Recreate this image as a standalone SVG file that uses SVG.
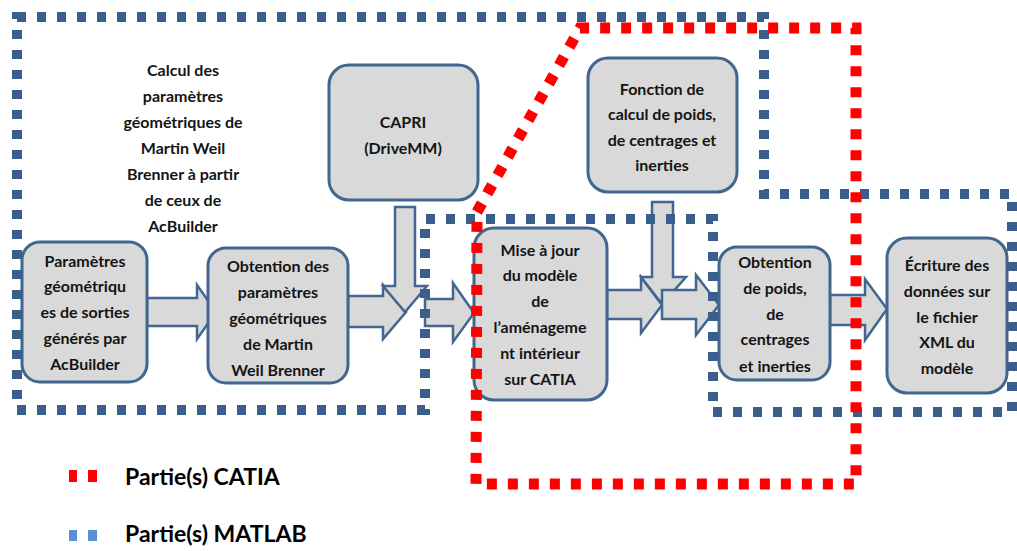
<svg xmlns="http://www.w3.org/2000/svg" width="1017" height="551" viewBox="0 0 1017 551">
<style>
.node{fill:#d9d9d9;stroke:#41668f;stroke-width:3}
.arr{fill:#d9d9d9;stroke:#41668f;stroke-width:2.5;stroke-linejoin:miter}
.t{font-family:Lato,"Liberation Sans",sans-serif;font-weight:bold;font-size:16px;fill:#141414;text-anchor:middle}
.lg{font-family:Lato,"Liberation Sans",sans-serif;font-weight:bold;font-size:23px;fill:#000}
.blue{fill:none;stroke:#3a5f8c;stroke-width:10;stroke-dasharray:9 11}
.red{fill:none;stroke:#ff0000;stroke-width:11;stroke-dasharray:10 11}
</style>
<rect width="1017" height="551" fill="#fff"/>
<g id="connectors">
<polygon class="arr" points="147,298 197,298 197,285 216,312 197,339 197,326 147,326"/>
<polygon class="arr" points="348,296 383,296 383,285 406,312 383,339 383,327 348,327"/>
<polygon class="arr" points="395,207 415,207 415,286 427,286 405,312 383,286 395,286"/>
<polygon class="arr" points="425,299 453,299 453,283 474,313 453,342 453,326 425,326"/>
<polygon class="arr" points="607,290 641,290 641,277 662,305 641,333 641,319 607,319"/>
<polygon class="arr" points="652,202 673,202 673,277 686,277 662,304 641,277 652,277"/>
<polygon class="arr" points="662,290 696,290 696,275 719,305 696,335 696,319 662,319"/>
<polygon class="arr" points="830,295 865,295 865,279 887,309 865,340 865,325 830,325"/>
</g>
<g id="title">
<text class="t" x="183"><tspan x="183" y="76">Calcul des</tspan><tspan x="183" y="102">paramètres</tspan><tspan x="183" y="128">géométriques de</tspan><tspan x="183" y="154">Martin Weil</tspan><tspan x="183" y="180">Brenner à partir</tspan><tspan x="183" y="206">de ceux de</tspan><tspan x="183" y="232">AcBuilder</tspan></text>
</g>
<g id="n1">
<rect class="node" x="22" y="242" width="125" height="140" rx="18"/>
<text class="t"><tspan x="85" y="267">Paramètres</tspan><tspan x="85" y="292">géométriqu</tspan><tspan x="85" y="318">es de sorties</tspan><tspan x="85" y="344">générés par</tspan><tspan x="85" y="370">AcBuilder</tspan></text>
</g>
<g id="n2">
<rect class="node" x="208" y="248" width="140" height="135" rx="18"/>
<text class="t"><tspan x="278" y="272">Obtention des</tspan><tspan x="278" y="298">paramètres</tspan><tspan x="278" y="324">géométriques</tspan><tspan x="278" y="350">de Martin</tspan><tspan x="278" y="376">Weil Brenner</tspan></text>
</g>
<g id="capri">
<rect class="node" x="329" y="65" width="149" height="135" rx="20"/>
<text class="t"><tspan x="403" y="128">CAPRI</tspan><tspan x="403" y="154">(DriveMM)</tspan></text>
</g>
<g id="fonction">
<rect class="node" x="588" y="58" width="149" height="134" rx="20"/>
<text class="t"><tspan x="662" y="95">Fonction de</tspan><tspan x="662" y="120">calcul de poids,</tspan><tspan x="662" y="146">de centrages et</tspan><tspan x="662" y="171">inerties</tspan></text>
</g>
<g id="mise">
<rect class="node" x="474" y="228" width="133" height="172" rx="20"/>
<text class="t"><tspan x="540" y="256">Mise à jour</tspan><tspan x="540" y="281">du modèle</tspan><tspan x="540" y="307">de</tspan><tspan x="540" y="333">l’aménageme</tspan><tspan x="540" y="359">nt intérieur</tspan><tspan x="540" y="385">sur CATIA</tspan></text>
</g>
<g id="poids">
<rect class="node" x="719" y="247" width="111" height="133" rx="18"/>
<text class="t"><tspan x="775" y="268">Obtention</tspan><tspan x="775" y="294">de poids,</tspan><tspan x="775" y="320">de</tspan><tspan x="775" y="345">centrages</tspan><tspan x="775" y="372">et inerties</tspan></text>
</g>
<g id="ecriture">
<rect class="node" x="887" y="238" width="120" height="155" rx="20"/>
<text class="t"><tspan x="947" y="271">Écriture des</tspan><tspan x="947" y="297">données sur</tspan><tspan x="947" y="323">le fichier</tspan><tspan x="947" y="348">XML du</tspan><tspan x="947" y="374">modèle</tspan></text>
</g>
<g id="matlab-zone">
<polygon class="blue" points="17,17 764,17 764,194 1012,194 1012,412 713,412 713,219 425,219 425,410 17,410"/>
</g>
<g id="catia-zone">
<polygon class="red" points="477,212 580,28 856,28 856,484 476,484"/>
</g>
<g id="legend">
<rect x="69" y="470" width="8" height="12" fill="#ff0000"/>
<rect x="88" y="470" width="9" height="12" fill="#ff0000"/>
<text class="lg" x="125" y="485">Partie(s) CATIA</text>
<rect x="69" y="530" width="8" height="11" fill="#5a8fd4"/>
<rect x="88" y="530" width="9" height="11" fill="#5a8fd4"/>
<text class="lg" x="125" y="542">Partie(s) MATLAB</text>
</g>
</svg>
